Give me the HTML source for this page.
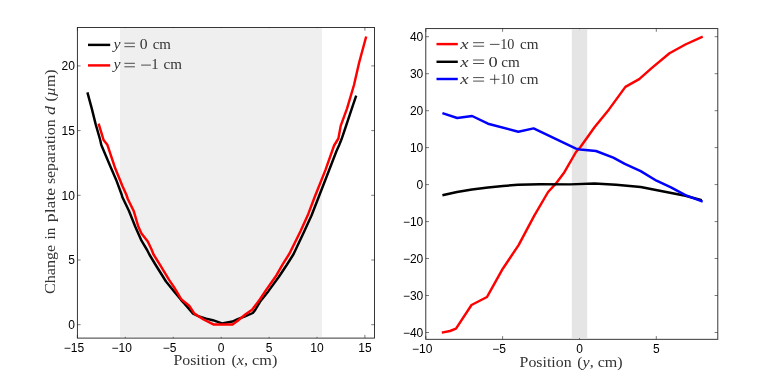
<!DOCTYPE html>
<html><head><meta charset="utf-8"><title>chart</title>
<style>
html,body{margin:0;padding:0;background:#fff;}
body{width:763px;height:381px;overflow:hidden;}
svg{display:block;will-change:transform;}
.tk{font-family:"Liberation Sans",sans-serif;font-size:12px;fill:#000;}
.sf{font-family:"Liberation Serif",serif;fill:#333;}
.ax{stroke:#222;stroke-width:0.9;fill:none;}
.tm{stroke:#222;stroke-width:0.6;fill:none;}
.op{stroke:#222;stroke-width:0.8;fill:none;}
.ln{fill:none;stroke-width:2.45;stroke-linejoin:round;stroke-linecap:butt;}
</style></head><body>
<svg width="763" height="381" viewBox="0 0 763 381">
<rect x="0" y="0" width="763" height="381" fill="#ffffff"/>

<rect class="ax" x="77.4" y="27.5" width="297.1" height="310.6"/>
<path class="tm" d="M77.4 338.1v-3.2M77.4 27.5v3.2"/>
<text class="tk" x="73.9" y="352" text-anchor="middle">−15</text>
<path class="tm" d="M125.3 338.1v-3.2M125.3 27.5v3.2"/>
<text class="tk" x="121.8" y="352" text-anchor="middle">−10</text>
<path class="tm" d="M173.2 338.1v-3.2M173.2 27.5v3.2"/>
<text class="tk" x="169.7" y="352" text-anchor="middle">−5</text>
<path class="tm" d="M221.2 338.1v-3.2M221.2 27.5v3.2"/>
<text class="tk" x="221.2" y="352" text-anchor="middle">0</text>
<path class="tm" d="M269.1 338.1v-3.2M269.1 27.5v3.2"/>
<text class="tk" x="269.1" y="352" text-anchor="middle">5</text>
<path class="tm" d="M317.0 338.1v-3.2M317.0 27.5v3.2"/>
<text class="tk" x="317.0" y="352" text-anchor="middle">10</text>
<path class="tm" d="M364.9 338.1v-3.2M364.9 27.5v3.2"/>
<text class="tk" x="364.9" y="352" text-anchor="middle">15</text>
<path class="tm" d="M77.4 324.7h3.2M374.5 324.7h-3.2"/>
<text class="tk" x="74.9" y="328.9" text-anchor="end">0</text>
<path class="tm" d="M77.4 260.0h3.2M374.5 260.0h-3.2"/>
<text class="tk" x="74.9" y="264.2" text-anchor="end">5</text>
<path class="tm" d="M77.4 195.3h3.2M374.5 195.3h-3.2"/>
<text class="tk" x="74.9" y="199.5" text-anchor="end">10</text>
<path class="tm" d="M77.4 130.6h3.2M374.5 130.6h-3.2"/>
<text class="tk" x="74.9" y="134.8" text-anchor="end">15</text>
<path class="tm" d="M77.4 65.9h3.2M374.5 65.9h-3.2"/>
<text class="tk" x="74.9" y="70.1" text-anchor="end">20</text>
<rect x="120.0" y="28.1" width="201.9" height="308.7" fill="#efefef"/>
<polyline class="ln" stroke="#000" points="87.4,92.4 91.8,108.6 95.7,124.4 100.2,140.0 101.3,145.0 110.5,166.8 116.0,179.4 121.8,195.0 122.3,197.0 128.9,210.7 135.2,226.5 141.5,240.7 147.1,250.0 149.4,254.5 155.7,265.0 166.0,281.5 173.1,290.2 181.0,299.8 184.5,303.6 193.1,313.6 199.0,316.5 206.2,318.6 212.8,320.2 222.0,323.4 232.5,321.5 237.7,319.1 245.0,316.4 252.8,313.0 255.2,310.0 260.0,301.8 268.6,290.9 278.9,276.8 286.7,265.0 293.6,254.0 303.6,232.8 311.5,215.5 318.5,197.5 328.6,171.5 336.5,151.0 339.2,145.0 341.5,139.3 345.5,127.5 351.8,108.6 356.2,95.7"/>
<polyline class="ln" stroke="#ff0000" points="98.6,123.6 103.6,140.1 107.3,144.7 115.2,168.3 122.3,185.7 126.5,195.0 127.8,199.0 133.6,210.7 138.3,226.5 141.5,233.6 147.8,241.5 151.8,250.0 153.3,254.0 160.5,265.7 169.1,279.9 173.9,287.0 180.0,297.2 181.7,299.6 189.2,305.7 194.4,313.6 203.6,319.5 213.4,324.4 232.5,324.4 237.7,320.8 245.6,314.3 252.1,309.7 260.0,299.2 265.5,290.9 276.5,275.2 282.8,264.2 289.5,253.5 300.5,231.2 308.3,213.9 314.3,198.0 325.5,169.9 334.1,145.5 338.4,138.5 340.7,125.9 347.0,108.6 354.0,85.0 359.1,62.8 366.2,36.5"/>
<path class="ln" stroke="#000" d="M88 44.9H110.2"/>
<path class="ln" stroke="#ff0000" d="M88 65.4H110.2"/>
<text class="sf" x="113.4" y="48.8" font-size="14.5" font-style="italic" textLength="7.0" lengthAdjust="spacingAndGlyphs">y</text>
<path class="op" d="M124.4 43.2H134.9M124.4 46.7H134.9"/>
<text class="sf" x="139.8" y="48.8" font-size="14.5" textLength="7.8" lengthAdjust="spacingAndGlyphs">0</text>
<text class="sf" x="152.7" y="48.8" font-size="14.5" textLength="18.2" lengthAdjust="spacingAndGlyphs">cm</text>
<text class="sf" x="113.4" y="69.0" font-size="14.5" font-style="italic" textLength="7.0" lengthAdjust="spacingAndGlyphs">y</text>
<path class="op" d="M124.4 63.3H134.9M124.4 66.8H134.9"/>
<path class="op" d="M141.1 65.1H150.9"/>
<text class="sf" x="151.2" y="69.0" font-size="14.5" textLength="7.4" lengthAdjust="spacingAndGlyphs">1</text>
<text class="sf" x="163.6" y="69.0" font-size="14.5" textLength="18.4" lengthAdjust="spacingAndGlyphs">cm</text>
<rect class="ax" x="425.8" y="28.6" width="292.0" height="310.7"/>
<path class="tm" d="M425.8 339.3v-3.2M425.8 28.6v3.2"/>
<text class="tk" x="422.3" y="352.8" text-anchor="middle">−10</text>
<path class="tm" d="M502.6 339.3v-3.2M502.6 28.6v3.2"/>
<text class="tk" x="499.1" y="352.8" text-anchor="middle">−5</text>
<path class="tm" d="M579.5 339.3v-3.2M579.5 28.6v3.2"/>
<text class="tk" x="579.5" y="352.8" text-anchor="middle">0</text>
<path class="tm" d="M656.3 339.3v-3.2M656.3 28.6v3.2"/>
<text class="tk" x="656.3" y="352.8" text-anchor="middle">5</text>
<path class="tm" d="M425.8 332.5h3.2M717.8 332.5h-3.2"/>
<text class="tk" x="423.3" y="336.7" text-anchor="end">−40</text>
<path class="tm" d="M425.8 295.5h3.2M717.8 295.5h-3.2"/>
<text class="tk" x="423.3" y="299.7" text-anchor="end">−30</text>
<path class="tm" d="M425.8 258.5h3.2M717.8 258.5h-3.2"/>
<text class="tk" x="423.3" y="262.7" text-anchor="end">−20</text>
<path class="tm" d="M425.8 221.6h3.2M717.8 221.6h-3.2"/>
<text class="tk" x="423.3" y="225.8" text-anchor="end">−10</text>
<path class="tm" d="M425.8 184.6h3.2M717.8 184.6h-3.2"/>
<text class="tk" x="423.3" y="188.8" text-anchor="end">0</text>
<path class="tm" d="M425.8 147.6h3.2M717.8 147.6h-3.2"/>
<text class="tk" x="423.3" y="151.8" text-anchor="end">10</text>
<path class="tm" d="M425.8 110.7h3.2M717.8 110.7h-3.2"/>
<text class="tk" x="423.3" y="114.9" text-anchor="end">20</text>
<path class="tm" d="M425.8 73.7h3.2M717.8 73.7h-3.2"/>
<text class="tk" x="423.3" y="77.9" text-anchor="end">30</text>
<path class="tm" d="M425.8 36.7h3.2M717.8 36.7h-3.2"/>
<text class="tk" x="423.3" y="40.9" text-anchor="end">40</text>
<rect x="571.8" y="29.2" width="15.4" height="308.8" fill="#e5e5e5"/>
<polyline class="ln" stroke="#ff0000" points="441.8,332.6 450.0,331.0 456.0,328.6 471.5,305.0 487.0,297.0 491.8,288.4 502.8,268.7 518.6,245.1 534.3,215.6 548.1,192.0 555.8,183.7 564.4,172.2 576.0,152.0 580.1,147.5 594.5,127.3 609.0,109.4 625.4,86.9 639.2,79.1 652.2,67.6 669.5,53.2 685.4,44.5 702.7,36.7"/>
<polyline class="ln" stroke="#000" points="442.4,195.3 457.0,192.0 472.0,189.5 488.0,187.5 503.0,186.0 518.0,184.8 540.0,184.3 570.0,184.4 594.5,183.5 616.1,184.7 640.7,187.0 662.3,191.3 685.4,195.7 701.8,200.3"/>
<polyline class="ln" stroke="#0000ff" points="442.4,113.1 457.2,118.0 472.1,116.0 488.0,123.7 518.3,131.8 533.6,128.4 576.0,148.6 580.1,149.5 596.0,151.0 613.3,157.6 624.8,163.9 640.7,171.1 656.5,180.7 671.0,187.3 685.4,195.1 702.7,201.7"/>
<path class="ln" stroke="#ff0000" d="M436.5 44.1H457.8"/>
<path class="ln" stroke="#000" d="M436.5 61.8H457.8"/>
<path class="ln" stroke="#0000ff" d="M436.5 79H457.8"/>
<text class="sf" x="460.2" y="48.8" font-size="14.5" font-style="italic" textLength="8.4" lengthAdjust="spacingAndGlyphs">x</text>
<path class="op" d="M473.1 42.7H484.1M473.1 46.2H484.1"/>
<path class="op" d="M489.9 44.4H499.5"/>
<text class="sf" x="500.2" y="48.8" font-size="14.5" textLength="14.2" lengthAdjust="spacingAndGlyphs">10</text>
<text class="sf" x="520.1" y="48.8" font-size="14.5" textLength="18.5" lengthAdjust="spacingAndGlyphs">cm</text>
<text class="sf" x="460.2" y="66.8" font-size="14.5" font-style="italic" textLength="8.4" lengthAdjust="spacingAndGlyphs">x</text>
<path class="op" d="M473.1 60.0H484.1M473.1 63.5H484.1"/>
<text class="sf" x="488.4" y="66.8" font-size="14.5" textLength="9.2" lengthAdjust="spacingAndGlyphs">0</text>
<text class="sf" x="501.2" y="66.8" font-size="14.5" textLength="18.5" lengthAdjust="spacingAndGlyphs">cm</text>
<text class="sf" x="460.2" y="83.9" font-size="14.5" font-style="italic" textLength="8.4" lengthAdjust="spacingAndGlyphs">x</text>
<path class="op" d="M473.1 77.6H484.1M473.1 81.1H484.1"/>
<path class="op" d="M489.9 79.3H499.5M494.7 74.5V84.2"/>
<text class="sf" x="500.2" y="83.9" font-size="14.5" textLength="14.2" lengthAdjust="spacingAndGlyphs">10</text>
<text class="sf" x="520.1" y="83.9" font-size="14.5" textLength="18.5" lengthAdjust="spacingAndGlyphs">cm</text>
<text class="sf" x="173.4" y="365.4" font-size="14.5" textLength="52.0" lengthAdjust="spacingAndGlyphs">Position</text>
<text class="sf" x="231.4" y="365.4" font-size="14.5" textLength="45.9" lengthAdjust="spacingAndGlyphs">(<tspan font-style="italic">x</tspan>, cm)</text>
<text class="sf" x="519.6" y="366.7" font-size="14.5" textLength="52.0" lengthAdjust="spacingAndGlyphs">Position</text>
<text class="sf" x="577.2" y="366.7" font-size="14.5" textLength="45.5" lengthAdjust="spacingAndGlyphs">(<tspan font-style="italic">y</tspan>, cm)</text>
<g transform="translate(55.3 0) rotate(-90)">
<text class="sf" x="-293.9" y="0" font-size="14.5" textLength="49.1" lengthAdjust="spacingAndGlyphs">Change</text>
<text class="sf" x="-239.5" y="0" font-size="14.5" textLength="11.7" lengthAdjust="spacingAndGlyphs">in</text>
<text class="sf" x="-222.2" y="0" font-size="14.5" textLength="34.3" lengthAdjust="spacingAndGlyphs">plate</text>
<text class="sf" x="-184.1" y="0" font-size="14.5" textLength="64.7" lengthAdjust="spacingAndGlyphs">separation</text>
<text class="sf" x="-114.9" y="0" font-size="14.5" font-style="italic" textLength="9.0" lengthAdjust="spacingAndGlyphs">d</text>
<text class="sf" x="-101.5" y="0" font-size="14.5" textLength="32.0" lengthAdjust="spacingAndGlyphs">(<tspan font-style="italic">µ</tspan>m)</text>
</g>
</svg></body></html>
